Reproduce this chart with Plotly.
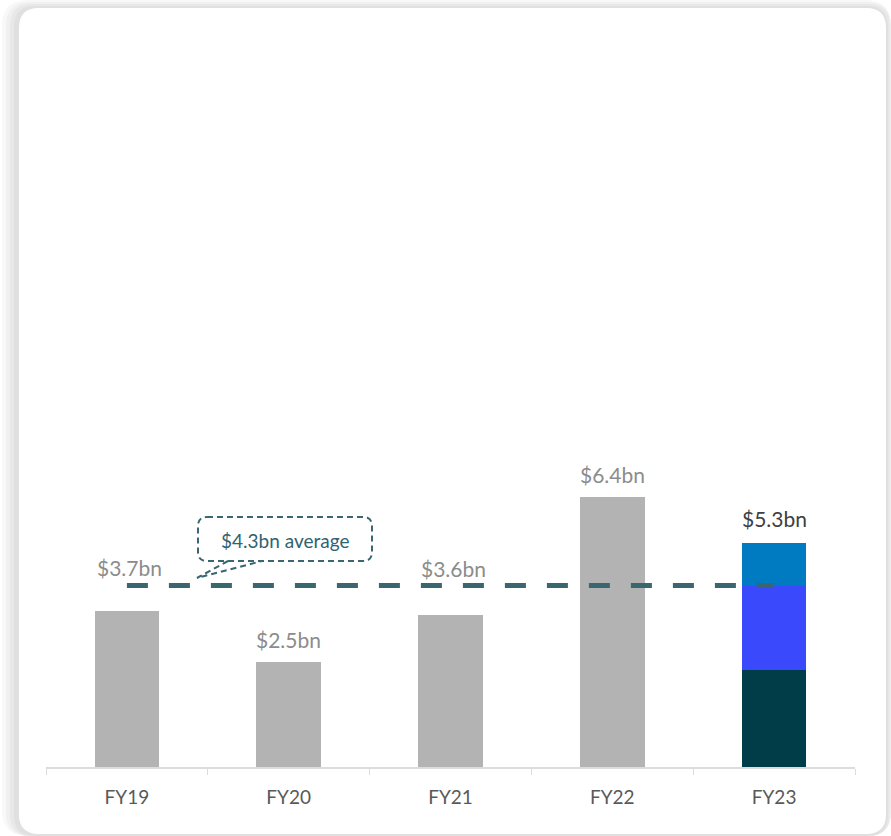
import plotly.graph_objects as go

# ---- data ----
categories = ["FY19", "FY20", "FY21", "FY22", "FY23"]
history_values = [3.7, 2.5, 3.6, 6.4, None]
fy23_segment_1 = [None, None, None, None, 2.3]   # dark teal (bottom)
fy23_segment_2 = [None, None, None, None, 2.0]   # blue (middle)
fy23_segment_3 = [None, None, None, None, 1.0]   # light blue (top)
total_labels = ["$3.7bn", "$2.5bn", "$3.6bn", "$6.4bn", "$5.3bn"]
totals = [3.7, 2.5, 3.6, 6.4, 5.3]
average_value = 4.3
average_label = "$4.3bn average"

W, H = 891, 836
L, R, T, B = 46, 36, 40, 69
PW, PH = W - L - R, H - T - B
YMAX = 17.23

def px(x):
    return (x - L) / PW

def py(y):
    return (H - B - y) / PH

def rounded_path(x0, y0, x1, y1, r):
    pts = []
    pts.append(f"M {px(x0 + r)},{py(y0)}")
    pts.append(f"L {px(x1 - r)},{py(y0)}")
    pts.append(f"Q {px(x1)},{py(y0)} {px(x1)},{py(y0 + r)}")
    pts.append(f"L {px(x1)},{py(y1 - r)}")
    pts.append(f"Q {px(x1)},{py(y1)} {px(x1 - r)},{py(y1)}")
    pts.append(f"L {px(x0 + r)},{py(y1)}")
    pts.append(f"Q {px(x0)},{py(y1)} {px(x0)},{py(y1 - r)}")
    pts.append(f"L {px(x0)},{py(y0 + r)}")
    pts.append(f"Q {px(x0)},{py(y0)} {px(x0 + r)},{py(y0)}")
    pts.append("Z")
    return " ".join(pts)

FONT = "Lato, 'Open Sans', sans-serif"

fig = go.Figure()
fig.add_trace(go.Bar(x=categories, y=history_values, marker_color="#b3b3b3",
                     marker_line_width=0, width=0.4, hoverinfo="skip", showlegend=False))
fig.add_trace(go.Bar(x=categories, y=fy23_segment_1, marker_color="#013c49",
                     marker_line_width=0, width=0.4, showlegend=False))
fig.add_trace(go.Bar(x=categories, y=fy23_segment_2, marker_color="#3b49fd",
                     marker_line_width=0, width=0.4, showlegend=False))
fig.add_trace(go.Bar(x=categories, y=fy23_segment_3, marker_color="#007bc2",
                     marker_line_width=0, width=0.4, showlegend=False))

# average dashed line
fig.add_trace(go.Scatter(x=[categories[0], categories[-1]], y=[average_value, average_value],
                         mode="lines", line=dict(color="#3a6670", width=5, dash="21px,21px"),
                         showlegend=False, hoverinfo="skip"))

shapes = []
# card shadow layers
shadow = [(2, 0, 891, 836, 26, "#f8f8f8"), (6, 2, 891, 836, 24, "#f0f0f0"),
          (10, 4, 890, 836, 22, "#e8e8e8"), (14, 6, 888, 836, 21, "#e0e0e0")]
for x0, y0, x1, y1, r, c in shadow:
    shapes.append(dict(type="path", path=rounded_path(x0, y0, x1, y1, r), xref="paper", yref="paper",
                       fillcolor=c, line=dict(width=0), layer="below"))
shapes.append(dict(type="path", path=rounded_path(19, 8, 886, 834, 20), xref="paper", yref="paper",
                   fillcolor="#ffffff", line=dict(width=0), layer="below"))

# callout box
shapes.append(dict(type="path", path=rounded_path(198, 517, 372, 561, 9), xref="paper", yref="paper",
                   fillcolor="rgba(255,255,255,0)", line=dict(color="#3a6670", width=2, dash="6px,4px")))
shapes.append(dict(type="path",
                   path=f"M {px(228)},{py(561)} L {px(197)},{py(578)} L {px(262)},{py(561)}",
                   xref="paper", yref="paper",
                   line=dict(color="#3a6670", width=2, dash="6px,4px")))
fig.update_layout(shapes=shapes)

# labels
label_shift = [43, 22, 47, 22, 25]
for i, (c, v, t) in enumerate(zip(categories, totals, total_labels)):
    fig.add_annotation(x=c, y=v, text=t, showarrow=False, xanchor="center", yanchor="middle",
                       yshift=label_shift[i], xshift=3 if i in (0, 2) else 0,
                       font=dict(family=FONT, size=21, color="#404040" if i == 4 else "#8c8c8c"))

fig.add_annotation(x=px(285), y=py(540), xref="paper", yref="paper", text=average_label,
                   xanchor="center", yanchor="middle",
                   showarrow=False, font=dict(family=FONT, size=19, color="#2f6470"))

fig.update_layout(
    width=W, height=H,
    margin=dict(l=L, r=R, t=T, b=B),
    paper_bgcolor="#ffffff", plot_bgcolor="rgba(0,0,0,0)",
    barmode="stack", bargap=0.6,
    font=dict(family=FONT),
    xaxis=dict(type="category", showline=True, linecolor="#dcdcdc", linewidth=2,
               ticks="outside", tickson="boundaries", ticklen=6, tickcolor="#dcdcdc", tickwidth=1,
               ticklabelstandoff=12,
               tickfont=dict(family=FONT, size=19, color="#595959"), showgrid=False,
               fixedrange=True),
    yaxis=dict(range=[0, YMAX], visible=False, showgrid=False, zeroline=False),
)

fig.write_html("out.html")
